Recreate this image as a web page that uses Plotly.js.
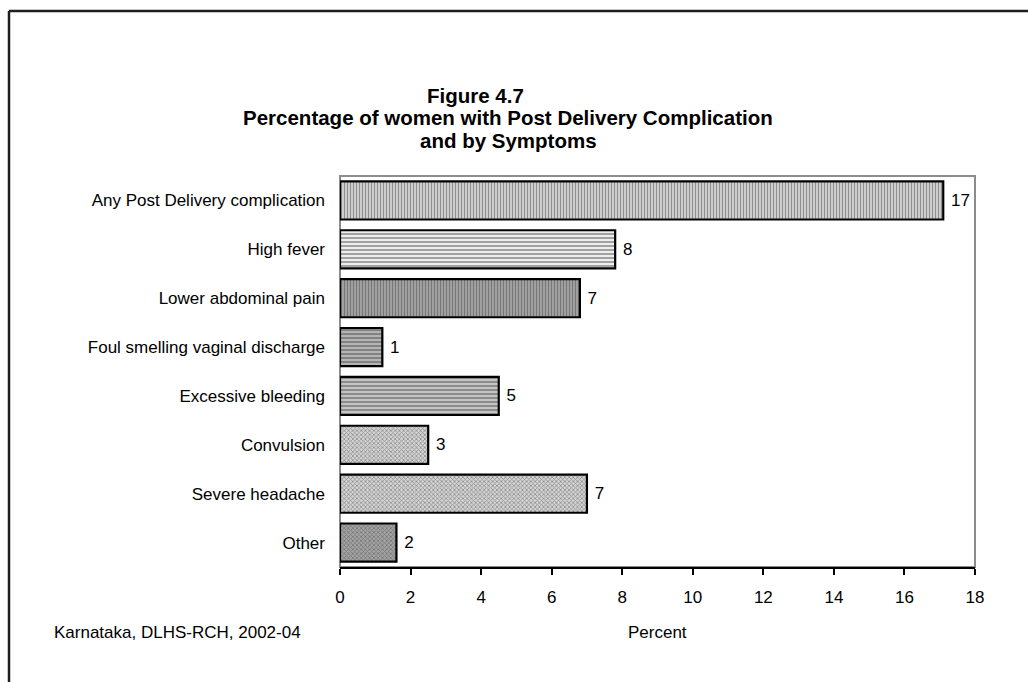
<!DOCTYPE html>
<html>
<head>
<meta charset="utf-8">
<script src="https://cdn.plot.ly/plotly-3.0.1.min.js"></script>
<style>
  html, body { margin: 0; padding: 0; background: #ffffff; }
  #chart { width: 1028px; height: 682px; }
</style>
</head>
<body>
<div id="chart"></div>
<script>
// Post delivery complications, percent of women (Karnataka, DLHS-RCH 2002-04)
const symptoms = [
  "Any Post Delivery complication",
  "High fever",
  "Lower abdominal pain",
  "Foul smelling vaginal discharge",
  "Excessive bleeding",
  "Convulsion",
  "Severe headache",
  "Other"
];
const percents = [17.1, 7.8, 6.8, 1.2, 4.5, 2.5, 7.0, 1.6];
const xTicks = [0, 2, 4, 6, 8, 10, 12, 14, 16, 18];

// hatch fills, one per bar
const hatchShapes = ["|", "-", "|", "-", "-", "x", "x", "x"];
const hatchBg = ["#dadada", "#eeeeee", "#a8a8a8", "#b4b4b4", "#c4c4c4", "#d4d4d4", "#d4d4d4", "#a4a4a4"];
const hatchFg = ["#8a8a8a", "#8c8c8c", "#666666", "#505050", "#505050", "#909090", "#909090", "#555555"];
const hatchSize = [3, 4, 3, 4, 4, 3, 3, 3];

const FONT = "Arial, 'Liberation Sans', sans-serif";
const LABEL_SIZE = 17;

const trace = {
  type: "bar",
  orientation: "h",
  y: symptoms,
  x: percents,
  marker: {
    color: hatchBg,
    line: { color: "#000000", width: 2.2 },
    pattern: {
      shape: hatchShapes,
      fgcolor: hatchFg,
      size: hatchSize,
      solidity: 0.45,
      fillmode: "overlay"
    }
  },
  texttemplate: "\u00a0%{x:.0f}",
  textposition: "outside",
  constraintext: "none",
  cliponaxis: false,
  outsidetextfont: { family: FONT, size: LABEL_SIZE, color: "#000000" },
  hoverinfo: "skip"
};

// plot area edges in pixels, used to place the page frame in paper units
const W = 1028, H = 682;
const mL = 340, mR = 53, mT = 176, mB = 115;
const pw = W - mL - mR, ph = H - mT - mB;
const px = v => (v - mL) / pw;
const py = v => (H - mB - v) / ph;

const layout = {
  width: W,
  height: H,
  margin: { l: mL, r: mR, t: mT, b: mB, pad: 0 },
  paper_bgcolor: "#ffffff",
  plot_bgcolor: "#ffffff",
  showlegend: false,
  bargap: 0.22,
  font: { family: FONT, size: LABEL_SIZE, color: "#000000" },
  xaxis: {
    range: [0, 18],
    tickvals: xTicks,
    ticktext: xTicks.map(String),
    showgrid: false,
    zeroline: false,
    showline: true,
    linecolor: "#000000",
    linewidth: 2,
    ticks: "outside",
    ticklen: 6,
    tickwidth: 2,
    tickcolor: "#000000",
    ticklabelstandoff: 8,
    tickfont: { family: FONT, size: LABEL_SIZE, color: "#000000" },
    fixedrange: true
  },
  yaxis: {
    autorange: "reversed",
    showgrid: false,
    zeroline: false,
    showline: false,
    ticks: "",
    ticklabelstandoff: 14,
    tickfont: { family: FONT, size: LABEL_SIZE, color: "#000000" },
    fixedrange: true
  },
  shapes: [
    // grey plot-area border
    { type: "rect", xref: "paper", yref: "paper", x0: 0, x1: 1, y0: 0, y1: 1,
      line: { color: "#8c8c8c", width: 2 }, fillcolor: "rgba(0,0,0,0)", layer: "below" },
    // page frame, top and left edges
    { type: "line", xref: "paper", yref: "paper", x0: px(9), x1: px(1100), y0: py(11), y1: py(11),
      line: { color: "#1e1e1e", width: 2.5 } },
    { type: "line", xref: "paper", yref: "paper", x0: px(9), x1: px(9), y0: py(11), y1: py(760),
      line: { color: "#1e1e1e", width: 2.5 } }
  ],
  annotations: [
    { text: "<b>Figure 4.7</b>", xref: "paper", yref: "paper", x: px(475), y: py(95),
      xanchor: "center", yanchor: "middle", showarrow: false,
      font: { family: FONT, size: 20.5, color: "#000000" } },
    { text: "<b>Percentage of women with Post Delivery Complication</b>", xref: "paper", yref: "paper",
      x: px(508), y: py(118), xanchor: "center", yanchor: "middle", showarrow: false,
      font: { family: FONT, size: 20.5, color: "#000000" } },
    { text: "<b>and by Symptoms</b>", xref: "paper", yref: "paper",
      x: px(508), y: py(141), xanchor: "center", yanchor: "middle", showarrow: false,
      font: { family: FONT, size: 20.5, color: "#000000" } },
    { text: "Percent", xref: "paper", yref: "paper", x: px(657), y: py(632),
      xanchor: "center", yanchor: "middle", showarrow: false,
      font: { family: FONT, size: LABEL_SIZE, color: "#000000" } },
    { text: "Karnataka, DLHS-RCH, 2002-04", xref: "paper", yref: "paper", x: px(52), y: py(632),
      xanchor: "left", yanchor: "middle", showarrow: false,
      font: { family: FONT, size: LABEL_SIZE, color: "#000000" } }
  ]
};

Plotly.newPlot("chart", [trace], layout, { displayModeBar: false, staticPlot: true });
</script>
</body>
</html>
